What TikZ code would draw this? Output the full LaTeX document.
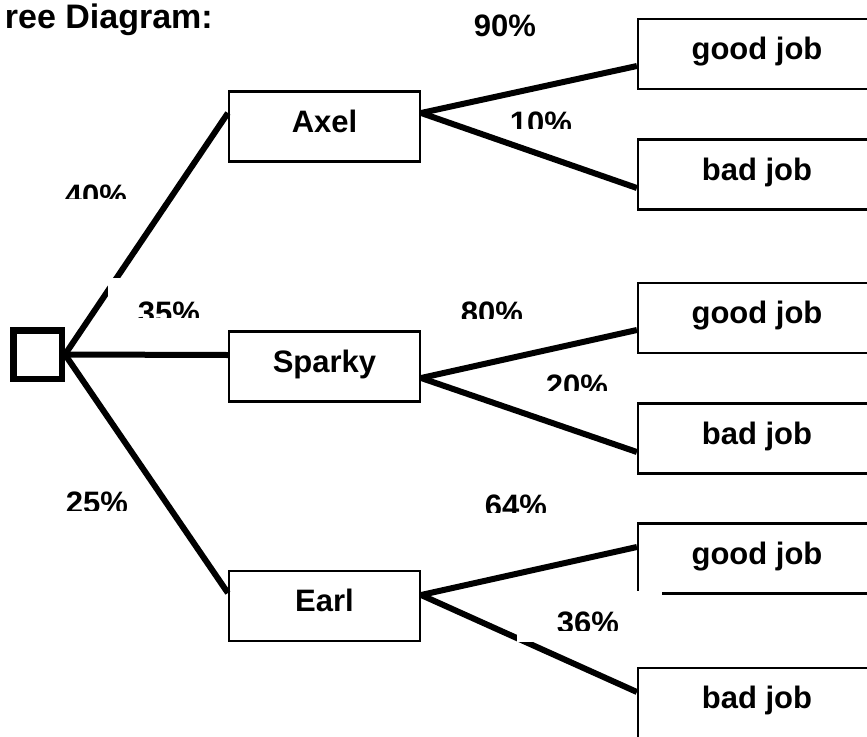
\documentclass[tikz,border=0pt]{standalone}
\usepackage{fontspec}
\setmainfont{Liberation Sans}
\begin{document}
\begin{tikzpicture}[x=1pt,y=-1pt,
  conn/.style={line width=6pt},
  box/.style={draw,line width=2.2pt,fill=white,inner sep=0pt,
    minimum width=191pt,minimum height=70pt,
    font=\fontsize{31}{37}\selectfont\bfseries,
    text height=21pt,text depth=10pt},
  outbox/.style={box,minimum width=238pt},
  dec/.style={draw,line width=6.5pt,fill=white,inner sep=0pt,
    minimum width=48.5pt,minimum height=48.5pt},
  lbl/.style={inner sep=0pt,font=\fontsize{31}{37}\selectfont\bfseries},
  patch/.style={fill=white}
]
\useasboundingbox (0,0) rectangle (867,736);
\clip (0,0) rectangle (867,736);
\fill[white] (0,0) rectangle (867,736);

% title
\node[lbl,font=\fontsize{34}{40}\selectfont\bfseries,anchor=base east] (title) at (213,28) {ree Diagram:};

% nodes
\node[dec] (d) at (37.5,354.5) {};
\node[box] (axel) at (324.5,126.5) {Axel};
\node[box] (sparky) at (324.5,366.5) {Sparky};
\node[box] (earl) at (324.5,606) {Earl};
\node[outbox] (g1) at (757,54) {good job};
\node[outbox] (b1) at (757,174.5) {bad job};
\node[outbox] (g2) at (757,318) {good job};
\node[outbox] (b2) at (757,438.5) {bad job};
\node[outbox] (g3) at (757,558.5) {good job};
\node[outbox] (b3) at (757,703) {bad job};

% connectors
\draw[conn] (d.east) -- ([yshift=13.5pt]axel.west);
\draw[conn] (d.east) -- ([yshift=11.5pt]sparky.west);
\draw[conn] (d.east) -- ([yshift=13pt]earl.west);
\draw[conn] ([yshift=13.5pt]axel.east) -- ([yshift=-12pt]g1.west);
\draw[conn] ([yshift=13.5pt]axel.east) -- ([yshift=-13.5pt]b1.west);
\draw[conn] ([yshift=-11.5pt]sparky.east) -- ([yshift=-12pt]g2.west);
\draw[conn] ([yshift=-11.5pt]sparky.east) -- ([yshift=-13.5pt]b2.west);
\draw[conn] ([yshift=11pt]earl.east) -- ([yshift=11.5pt]g3.west);
\draw[conn] ([yshift=11pt]earl.east) -- ([yshift=11pt]b3.west);

% white patches of the text frames
\fill[patch] (108,278) rectangle (220,340);
\fill[patch] (517,591) rectangle (662,642);

% probability labels (bottoms cut off as in the picture)
\node[lbl,anchor=base] (p90) at (505,36) {90\%};
\begin{scope}\clip (400,100) rectangle (700,128);
  \node[lbl,anchor=base] (p10) at (541,133) {10\%};\end{scope}
\begin{scope}\clip (40,170) rectangle (200,198);
  \node[lbl,anchor=base] (p40) at (96,206) {40\%};\end{scope}
\begin{scope}\clip (110,285) rectangle (220,317);
  \node[lbl,anchor=base] (p35) at (169,323) {35\%};\end{scope}
\begin{scope}\clip (40,480) rectangle (200,510);
  \node[lbl,anchor=base] (p25) at (97,513) {25\%};\end{scope}
\begin{scope}\clip (430,290) rectangle (560,318);
  \node[lbl,anchor=base] (p80) at (492,323) {80\%};\end{scope}
\begin{scope}\clip (520,360) rectangle (630,390);
  \node[lbl,anchor=base] (p20) at (577,396) {20\%};\end{scope}
\begin{scope}\clip (460,480) rectangle (580,512);
  \node[lbl,anchor=base] (p64) at (516,516) {64\%};\end{scope}
\begin{scope}\clip (530,595) rectangle (650,630);
  \node[lbl,anchor=base] (p36) at (588,633) {36\%};\end{scope}
\end{tikzpicture}
\end{document}
